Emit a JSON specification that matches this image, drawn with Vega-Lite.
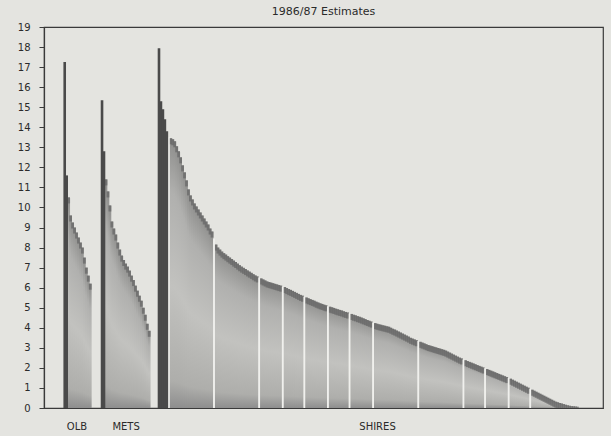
{
  "$schema": "https://vega.github.io/schema/vega-lite/v6.json",
  "width": 559,
  "height": 381,
  "autosize": {"type": "none"},
  "padding": {"left": 44, "top": 27, "right": 8, "bottom": 28},
  "background": "#e4e4e0",
  "title": {"text": "1986/87 Estimates", "fontSize": 11, "font": "DejaVu Sans", "fontWeight": "normal", "color": "#2a2a2a", "offset": 5},
  "config": {
    "view": {"stroke": "#3a3a3a", "strokeWidth": 1.2},
    "axis": {"domainColor": "#3a3a3a", "domainWidth": 1.2, "tickColor": "#3a3a3a", "labelColor": "#2a2a2a", "labelFont": "DejaVu Sans", "labelFontSize": 10, "grid": false, "title": null}
  },
  "data": {"values": [
    {"i":8,"v":17.26,"k":"peak"},{"i":9,"v":11.6,"k":"dark"},{"i":10,"v":10.5,"k":"bar"},{"i":11,"v":9.6,"k":"bar"},{"i":12,"v":9.25,"k":"bar"},{"i":13,"v":9.0,"k":"bar"},{"i":14,"v":8.75,"k":"bar"},{"i":15,"v":8.5,"k":"bar"},{"i":16,"v":8.25,"k":"bar"},{"i":17,"v":8.0,"k":"bar"},{"i":18,"v":7.5,"k":"bar"},{"i":19,"v":7.0,"k":"bar"},{"i":20,"v":6.6,"k":"bar"},{"i":21,"v":6.2,"k":"bar"},
    {"i":27,"v":15.35,"k":"peak"},{"i":28,"v":12.8,"k":"dark"},{"i":29,"v":11.4,"k":"bar"},{"i":30,"v":10.8,"k":"bar"},{"i":31,"v":10.1,"k":"bar"},{"i":32,"v":9.3,"k":"bar"},{"i":33,"v":8.95,"k":"bar"},{"i":34,"v":8.65,"k":"bar"},{"i":35,"v":8.25,"k":"bar"},{"i":36,"v":7.9,"k":"bar"},{"i":37,"v":7.6,"k":"bar"},{"i":38,"v":7.38,"k":"bar"},{"i":39,"v":7.2,"k":"bar"},{"i":40,"v":7.05,"k":"bar"},{"i":41,"v":6.85,"k":"bar"},{"i":42,"v":6.6,"k":"bar"},{"i":43,"v":6.38,"k":"bar"},{"i":44,"v":6.1,"k":"bar"},{"i":45,"v":5.85,"k":"bar"},{"i":46,"v":5.6,"k":"bar"},{"i":47,"v":5.35,"k":"bar"},{"i":48,"v":5.0,"k":"bar"},{"i":49,"v":4.65,"k":"bar"},{"i":50,"v":4.2,"k":"bar"},{"i":51,"v":3.85,"k":"bar"},
    {"i":56,"v":17.94,"k":"peak"},{"i":57,"v":15.3,"k":"dark"},{"i":58,"v":14.9,"k":"dark"},{"i":59,"v":14.4,"k":"dark"},{"i":60,"v":13.8,"k":"dark"},{"i":61,"v":13.5,"k":"gap"},
    {"i":62,"v":13.45,"k":"bar"},{"i":63,"v":13.4,"k":"bar"},{"i":64,"v":13.3,"k":"bar"},{"i":65,"v":13.05,"k":"bar"},{"i":66,"v":12.8,"k":"bar"},{"i":67,"v":12.5,"k":"bar"},{"i":68,"v":12.1,"k":"bar"},{"i":69,"v":11.75,"k":"bar"},{"i":70,"v":11.35,"k":"bar"},{"i":71,"v":10.9,"k":"bar"},{"i":72,"v":10.6,"k":"bar"},{"i":73,"v":10.4,"k":"bar"},{"i":74,"v":10.2,"k":"bar"},{"i":75,"v":10.05,"k":"bar"},{"i":76,"v":9.9,"k":"bar"},{"i":77,"v":9.75,"k":"bar"},{"i":78,"v":9.6,"k":"bar"},{"i":79,"v":9.45,"k":"bar"},{"i":80,"v":9.3,"k":"bar"},{"i":81,"v":9.15,"k":"bar"},{"i":82,"v":8.95,"k":"bar"},{"i":83,"v":8.8,"k":"bar"},
    {"i":84,"v":8.45,"k":"gap"},
    {"i":85,"v":8.15,"k":"bar"},{"i":86,"v":8.0,"k":"bar"},{"i":87,"v":7.9,"k":"bar"},{"i":88,"v":7.8,"k":"bar"},{"i":89,"v":7.72,"k":"bar"},{"i":90,"v":7.65,"k":"bar"},{"i":91,"v":7.57,"k":"bar"},{"i":92,"v":7.5,"k":"bar"},{"i":93,"v":7.43,"k":"bar"},{"i":94,"v":7.35,"k":"bar"},{"i":95,"v":7.28,"k":"bar"},{"i":96,"v":7.2,"k":"bar"},{"i":97,"v":7.12,"k":"bar"},{"i":98,"v":7.05,"k":"bar"},{"i":99,"v":6.99,"k":"bar"},{"i":100,"v":6.93,"k":"bar"},{"i":101,"v":6.86,"k":"bar"},{"i":102,"v":6.8,"k":"bar"},{"i":103,"v":6.74,"k":"bar"},{"i":104,"v":6.67,"k":"bar"},{"i":105,"v":6.61,"k":"bar"},{"i":106,"v":6.56,"k":"bar"},
    {"i":107,"v":6.51,"k":"gap"},
    {"i":108,"v":6.46,"k":"bar"},{"i":109,"v":6.41,"k":"bar"},{"i":110,"v":6.36,"k":"bar"},{"i":111,"v":6.31,"k":"bar"},{"i":112,"v":6.28,"k":"bar"},{"i":113,"v":6.25,"k":"bar"},{"i":114,"v":6.22,"k":"bar"},{"i":115,"v":6.19,"k":"bar"},{"i":116,"v":6.16,"k":"bar"},{"i":117,"v":6.13,"k":"bar"},{"i":118,"v":6.1,"k":"bar"},
    {"i":119,"v":6.06,"k":"gap"},
    {"i":120,"v":6.03,"k":"bar"},{"i":121,"v":5.98,"k":"bar"},{"i":122,"v":5.93,"k":"bar"},{"i":123,"v":5.89,"k":"bar"},{"i":124,"v":5.84,"k":"bar"},{"i":125,"v":5.79,"k":"bar"},{"i":126,"v":5.74,"k":"bar"},{"i":127,"v":5.69,"k":"bar"},{"i":128,"v":5.64,"k":"bar"},{"i":129,"v":5.6,"k":"bar"},
    {"i":130,"v":5.55,"k":"gap"},
    {"i":131,"v":5.51,"k":"bar"},{"i":132,"v":5.47,"k":"bar"},{"i":133,"v":5.43,"k":"bar"},{"i":134,"v":5.39,"k":"bar"},{"i":135,"v":5.35,"k":"bar"},{"i":136,"v":5.3,"k":"bar"},{"i":137,"v":5.26,"k":"bar"},{"i":138,"v":5.22,"k":"bar"},{"i":139,"v":5.19,"k":"bar"},{"i":140,"v":5.15,"k":"bar"},{"i":141,"v":5.12,"k":"bar"},
    {"i":142,"v":5.08,"k":"gap"},
    {"i":143,"v":5.05,"k":"bar"},{"i":144,"v":5.02,"k":"bar"},{"i":145,"v":4.99,"k":"bar"},{"i":146,"v":4.95,"k":"bar"},{"i":147,"v":4.92,"k":"bar"},{"i":148,"v":4.89,"k":"bar"},{"i":149,"v":4.86,"k":"bar"},{"i":150,"v":4.82,"k":"bar"},{"i":151,"v":4.79,"k":"bar"},{"i":152,"v":4.76,"k":"bar"},
    {"i":153,"v":4.72,"k":"gap"},
    {"i":154,"v":4.69,"k":"bar"},{"i":155,"v":4.65,"k":"bar"},{"i":156,"v":4.62,"k":"bar"},{"i":157,"v":4.58,"k":"bar"},{"i":158,"v":4.55,"k":"bar"},{"i":159,"v":4.51,"k":"bar"},{"i":160,"v":4.47,"k":"bar"},{"i":161,"v":4.43,"k":"bar"},{"i":162,"v":4.39,"k":"bar"},{"i":163,"v":4.35,"k":"bar"},{"i":164,"v":4.31,"k":"bar"},
    {"i":165,"v":4.27,"k":"gap"},
    {"i":166,"v":4.23,"k":"bar"},{"i":167,"v":4.2,"k":"bar"},{"i":168,"v":4.17,"k":"bar"},{"i":169,"v":4.15,"k":"bar"},{"i":170,"v":4.12,"k":"bar"},{"i":171,"v":4.1,"k":"bar"},{"i":172,"v":4.07,"k":"bar"},{"i":173,"v":4.05,"k":"bar"},{"i":174,"v":4.0,"k":"bar"},{"i":175,"v":3.95,"k":"bar"},{"i":176,"v":3.91,"k":"bar"},{"i":177,"v":3.86,"k":"bar"},{"i":178,"v":3.81,"k":"bar"},{"i":179,"v":3.76,"k":"bar"},{"i":180,"v":3.71,"k":"bar"},{"i":181,"v":3.66,"k":"bar"},{"i":182,"v":3.61,"k":"bar"},{"i":183,"v":3.56,"k":"bar"},{"i":184,"v":3.5,"k":"bar"},{"i":185,"v":3.46,"k":"bar"},{"i":186,"v":3.42,"k":"bar"},{"i":187,"v":3.38,"k":"bar"},
    {"i":188,"v":3.34,"k":"gap"},
    {"i":189,"v":3.3,"k":"bar"},{"i":190,"v":3.26,"k":"bar"},{"i":191,"v":3.22,"k":"bar"},{"i":192,"v":3.18,"k":"bar"},{"i":193,"v":3.14,"k":"bar"},{"i":194,"v":3.11,"k":"bar"},{"i":195,"v":3.08,"k":"bar"},{"i":196,"v":3.05,"k":"bar"},{"i":197,"v":3.02,"k":"bar"},{"i":198,"v":2.99,"k":"bar"},{"i":199,"v":2.96,"k":"bar"},{"i":200,"v":2.93,"k":"bar"},{"i":201,"v":2.9,"k":"bar"},{"i":202,"v":2.86,"k":"bar"},{"i":203,"v":2.81,"k":"bar"},{"i":204,"v":2.76,"k":"bar"},{"i":205,"v":2.71,"k":"bar"},{"i":206,"v":2.66,"k":"bar"},{"i":207,"v":2.61,"k":"bar"},{"i":208,"v":2.56,"k":"bar"},{"i":209,"v":2.51,"k":"bar"},{"i":210,"v":2.47,"k":"bar"},
    {"i":211,"v":2.42,"k":"gap"},
    {"i":212,"v":2.38,"k":"bar"},{"i":213,"v":2.34,"k":"bar"},{"i":214,"v":2.3,"k":"bar"},{"i":215,"v":2.26,"k":"bar"},{"i":216,"v":2.22,"k":"bar"},{"i":217,"v":2.18,"k":"bar"},{"i":218,"v":2.14,"k":"bar"},{"i":219,"v":2.1,"k":"bar"},{"i":220,"v":2.06,"k":"bar"},{"i":221,"v":2.02,"k":"bar"},
    {"i":222,"v":1.98,"k":"gap"},
    {"i":223,"v":1.94,"k":"bar"},{"i":224,"v":1.9,"k":"bar"},{"i":225,"v":1.86,"k":"bar"},{"i":226,"v":1.82,"k":"bar"},{"i":227,"v":1.78,"k":"bar"},{"i":228,"v":1.74,"k":"bar"},{"i":229,"v":1.7,"k":"bar"},{"i":230,"v":1.66,"k":"bar"},{"i":231,"v":1.62,"k":"bar"},{"i":232,"v":1.58,"k":"bar"},{"i":233,"v":1.54,"k":"bar"},
    {"i":234,"v":1.5,"k":"gap"},
    {"i":235,"v":1.46,"k":"bar"},{"i":236,"v":1.41,"k":"bar"},{"i":237,"v":1.36,"k":"bar"},{"i":238,"v":1.31,"k":"bar"},{"i":239,"v":1.26,"k":"bar"},{"i":240,"v":1.21,"k":"bar"},{"i":241,"v":1.16,"k":"bar"},{"i":242,"v":1.11,"k":"bar"},{"i":243,"v":1.06,"k":"bar"},{"i":244,"v":1.01,"k":"bar"},
    {"i":245,"v":0.96,"k":"gap"},
    {"i":246,"v":0.91,"k":"bar"},{"i":247,"v":0.86,"k":"bar"},{"i":248,"v":0.81,"k":"bar"},{"i":249,"v":0.76,"k":"bar"},{"i":250,"v":0.71,"k":"bar"},{"i":251,"v":0.66,"k":"bar"},{"i":252,"v":0.61,"k":"bar"},{"i":253,"v":0.56,"k":"bar"},{"i":254,"v":0.51,"k":"bar"},{"i":255,"v":0.46,"k":"bar"},{"i":256,"v":0.41,"k":"bar"},{"i":257,"v":0.36,"k":"bar"},{"i":258,"v":0.31,"k":"bar"},{"i":259,"v":0.28,"k":"bar"},{"i":260,"v":0.25,"k":"bar"},{"i":261,"v":0.22,"k":"bar"},{"i":262,"v":0.19,"k":"bar"},{"i":263,"v":0.16,"k":"bar"},{"i":264,"v":0.13,"k":"bar"},{"i":265,"v":0.11,"k":"bar"},{"i":266,"v":0.09,"k":"bar"},{"i":267,"v":0.08,"k":"bar"},{"i":268,"v":0.07,"k":"bar"},{"i":269,"v":0.06,"k":"bar"}
  ]},
  "encoding": {
    "x": {"field": "i", "type": "quantitative", "scale": {"domain": [0, 279.5], "nice": false, "zero": false},
      "axis": {"values": [14, 39, 167], "ticks": false, "labelPadding": 13, "labelFontSize": 10, "labelExpr": "datum.value == 14 ? 'OLB' : datum.value == 39 ? 'METS' : 'SHIRES'"}},
    "y": {"field": "v", "type": "quantitative", "scale": {"domain": [0, 19], "nice": false},
      "axis": {"values": [0,1,2,3,4,5,6,7,8,9,10,11,12,13,14,15,16,17,18,19], "tickSize": 5, "labelPadding": 9}}
  },
  "layer": [
    {
      "transform": [{"filter": "datum.k == 'bar'"}],
      "mark": {"type": "bar", "orient": "vertical", "width": 2.8, "color": {"gradient": "linear", "x1": 0, "y1": 0, "x2": 0, "y2": 1,
        "stops": [{"offset": 0, "color": "#8e8e8c"}, {"offset": 0.2, "color": "#b0b0ae"}, {"offset": 0.55, "color": "#c2c2bf"}, {"offset": 0.9, "color": "#aeaeab"}, {"offset": 1, "color": "#8e8e8e"}]}}
    },
    {
      "transform": [{"filter": "datum.k == 'bar'"}],
      "mark": {"type": "tick", "orient": "horizontal", "size": 2.8, "thickness": 6, "yOffset": 3, "color": "#6a6a6a", "opacity": 0.8, "clip": true}
    },
    {
      "transform": [{"filter": "datum.k == 'gap'"}],
      "mark": {"type": "bar", "orient": "vertical", "width": 1.8, "color": "#f0f0ed"}
    },
    {
      "transform": [{"filter": "datum.k == 'dark' || datum.k == 'peak'"}],
      "mark": {"type": "bar", "orient": "vertical", "width": 2.6, "color": "#4a4a4a"}
    }
  ]
}
